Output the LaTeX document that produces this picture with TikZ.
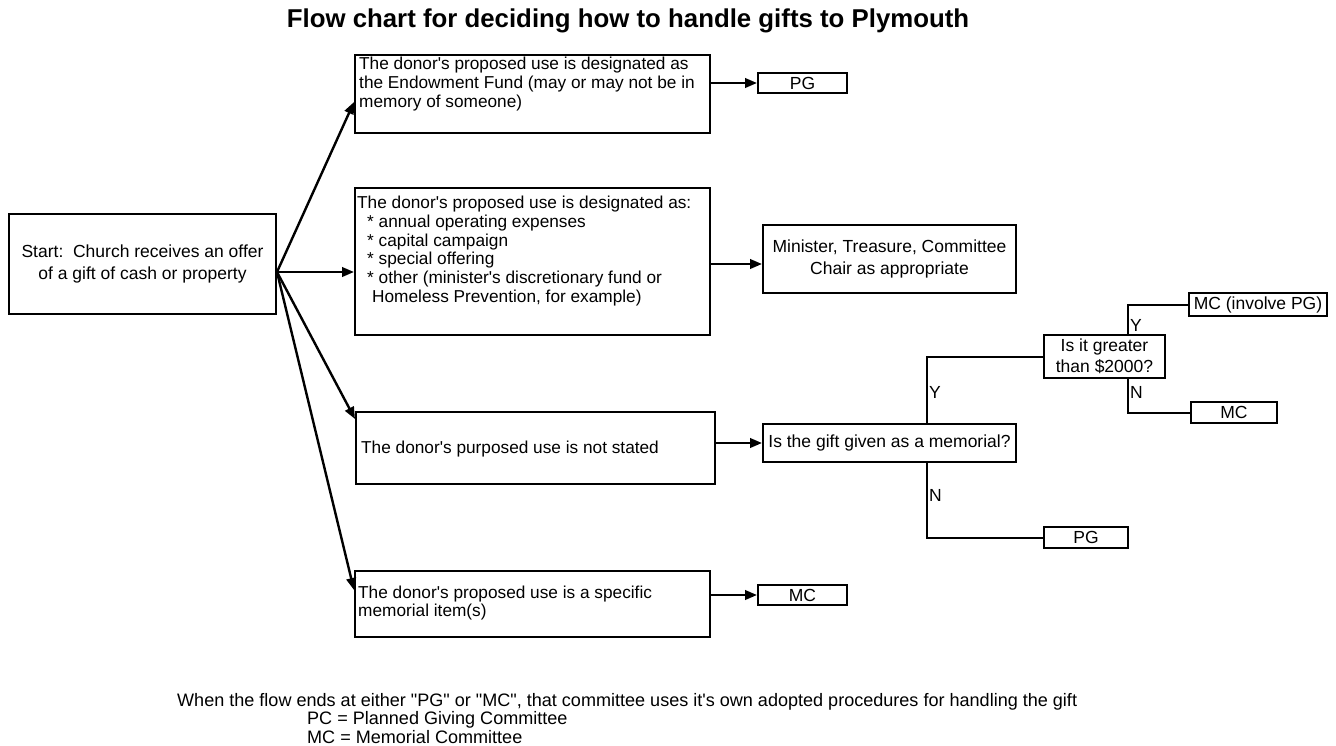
\documentclass[tikz,border=0pt]{standalone}
\usepackage{fontspec}
\setmainfont{Liberation Sans}[Ligatures=TeXOff]
\usetikzlibrary{arrows.meta}
\newcommand\bodyfs{\fontsize{17.5}{18.7}\selectfont}
\newcommand\leftfs{\fontsize{17.25}{18.7}\selectfont}
\newcommand\widefs{\fontsize{17.5}{21.7}\selectfont}
\newcommand\notefs{\fontsize{18.05}{18.7}\selectfont}
\newcommand\titlefs{\fontsize{25.8}{28}\selectfont\bfseries}
\begin{document}
\begin{tikzpicture}[x=1pt,y=-1pt,
  box/.style={draw, line width=2pt, inner sep=0pt, align=center, font=\bodyfs},
  txt/.style={inner sep=0pt, align=left, font=\leftfs},
  lab/.style={inner sep=0pt, font=\bodyfs, anchor=west},
  arr/.style={line width=2.4pt, -{Triangle[length=12pt,width=9.5pt]}},
  ln/.style={line width=2pt}]
\fill[white] (0,0) rectangle (1336,745);
\useasboundingbox (0,0) rectangle (1336,745);

\node[font=\titlefs] (title) at (628,21) {Flow chart for deciding how to handle gifts to Plymouth};

\node[box, font=\widefs, minimum width=267pt, minimum height=100pt] (start) at (142.5,264) {Start:\ \ Church receives an offer\\of a gift of cash or property};

\node[box, minimum width=355pt, minimum height=78pt] (endow) at (532.5,94) {};
\node[txt, anchor=west] (endowT) at (359,84) {The donor's proposed use is designated as\\the Endowment Fund (may or may not be in\\memory of someone)};

\node[box, minimum width=355pt, minimum height=147pt] (oper) at (532.5,261.5) {};
\node[txt, anchor=west] (operT) at (357,251) {The donor's proposed use is designated as:\\\hspace*{10pt}* annual operating expenses\\\hspace*{10pt}* capital campaign\\\hspace*{10pt}* special offering\\\hspace*{10pt}* other (minister's discretionary fund or\\\hspace*{15pt}Homeless Prevention, for example)};

\node[box, minimum width=359pt, minimum height=72pt] (notst) at (535.5,448) {};
\node[txt, anchor=west] (notstT) at (361,449) {The donor's purposed use is not stated};

\node[box, minimum width=355pt, minimum height=66pt] (item) at (532.5,604) {};
\node[txt, anchor=west] (itemT) at (358,603) {The donor's proposed use is a specific\\memorial item(s)};

\node[box, minimum width=89pt, minimum height=20pt] (pg1) at (802.5,83) {PG};
\node[box, font=\widefs, minimum width=253pt, minimum height=68pt] (minister) at (889.5,259) {Minister, Treasure, Committee\\Chair as appropriate};
\node[box, minimum width=253pt, minimum height=38pt] (memq) at (889.5,443) {Is the gift given as a memorial?};
\node[box, minimum width=89pt, minimum height=20pt] (mc1) at (802.5,595) {MC};
\node[box, minimum width=121pt, minimum height=43pt] (greater) at (1104.5,356.5) {\raisebox{-2pt}{\shortstack{Is it greater\\[1pt]than \$2000?}}};
\node[box, minimum width=138pt, minimum height=23pt] (mcpg) at (1258,304.5) {MC (involve PG)};
\node[box, minimum width=86pt, minimum height=21pt] (mc2) at (1234,412.5) {MC};
\node[box, minimum width=84pt, minimum height=21pt] (pg2) at (1086,537.5) {PG};

\draw[arr] ([yshift=-8pt]start.east) -- ([yshift=-8pt]endow.west);
\draw[arr] ([yshift=-8pt]start.east) -- ([yshift=-8pt]start.east -| oper.west);
\draw[arr] ([yshift=-8pt]start.east) -- ([yshift=-8pt]notst.north west);
\draw[arr] ([yshift=-8pt]start.east) -- ([yshift=14pt]item.west);
\draw[arr] (endow.east |- pg1.west) -- (pg1.west);
\draw[arr] ([yshift=-2.5pt]oper.east) -- ([yshift=-2.5pt]oper.east -| minister.west);
\draw[arr] (notst.east |- memq.west) -- (memq.west);
\draw[arr] (item.east |- mc1.west) -- (mc1.west);

\draw[ln] ([xshift=37.5pt]memq.north) |- (greater.west);
\draw[ln] ([xshift=37.5pt]memq.south) |- (pg2.west);
\draw[ln] ([xshift=23.5pt]greater.north) |- (mcpg.west);
\draw[ln] ([xshift=23.5pt]greater.south) |- (mc2.west);

\node[lab] (y1) at (929,392) {Y};
\node[lab] (n1) at (929,495) {N};
\node[lab] (y2) at (1130,325) {Y};
\node[lab] (n2) at (1130,392) {N};

\node[txt, font=\notefs, anchor=west] (note1) at (177,702) {When the flow ends at either "PG" or "MC", that committee uses it's own adopted procedures for handling the gift};
\node[txt, font=\notefs, anchor=west] (note2) at (307,719.5) {PC = Planned Giving Committee};
\node[txt, font=\notefs, anchor=west] (note3) at (307,737) {MC = Memorial Committee};
\end{tikzpicture}
\end{document}
